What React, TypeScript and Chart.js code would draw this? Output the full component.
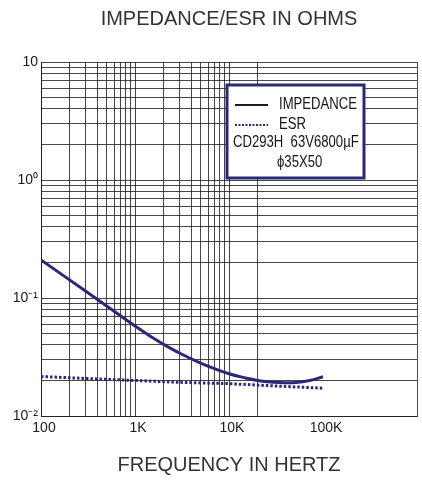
import React, { useEffect, useRef } from 'react';
import { Chart, registerables } from 'chart.js';

Chart.register(...registerables);

// ---- data ----
const IMP_FREQ = [100, 300, 700, 1000, 1500, 2000, 3000, 5000, 7000, 10000, 15000, 20000, 30000, 40000, 50000, 70000, 100000];
const IMPEDANCE = [0.21, 0.114, 0.0708, 0.058, 0.0467, 0.0406, 0.034, 0.028, 0.0252, 0.0228, 0.021, 0.02, 0.0193, 0.0191, 0.0192, 0.0199, 0.0215];
const ESR_FREQ = [100, 300, 1000, 3000, 10000, 30000, 100000];
const ESR = [0.0216, 0.0208, 0.02, 0.0193, 0.0188, 0.018, 0.0172];

const X_GRID_VALUES = [
  100, 200, 300, 400, 500, 600, 700, 800, 900,
  1000, 2000, 3000, 4000, 5000, 6000, 7000, 8000, 9000,
  10000, 20000, 100000, 1000000,
];
const X_LABEL_VALUES = [100, 1000, 10000, 100000];
const X_LABEL_TEXT = ['100', '1K', '10K', '100K'];
const X_GRID_LIMIT = 20000;

const Y_GRID_VALUES = [
  0.01, 0.02, 0.03, 0.04, 0.05, 0.06, 0.07, 0.08, 0.09,
  0.1, 0.2, 0.3, 0.4, 0.5, 0.6, 0.7, 0.8, 0.9,
  1, 2, 3, 4, 5, 6, 7, 8, 9, 10,
];
const Y_LABEL_VALUES = [0.01, 0.1, 1, 10];
const Y_LABEL_TEXT = ['10\u207B\u00B2', '10\u207B\u00B9', '10\u2070', '10'];

const TITLE = 'IMPEDANCE/ESR IN OHMS';
const X_TITLE = 'FREQUENCY IN HERTZ';
const SERIES_NAMES = ['IMPEDANCE', 'ESR'];
const LEGEND_NOTE_1 = 'CD293H  63V6800\u00B5F';
const LEGEND_NOTE_2 = '\u03D535X50';

const LINE_COLOR = '#2b2878';
const GRID_COLOR = 'rgba(25,25,25,0.8)';
const FONT = '"Liberation Sans", Arial, sans-serif';

const near = (a: number, b: number) => Math.abs(Math.log10(a) - Math.log10(b)) < 1e-6;

const drawNarrow = (ctx: any, text: string, x: number, y: number) => {
  ctx.save();
  ctx.translate(x, y);
  ctx.scale(0.82, 1);
  ctx.fillText(text, 0, 0);
  ctx.restore();
};

const legendBoxPlugin = {
  id: 'legendBox',
  afterDatasetsDraw(chart: any) {
    const { ctx, chartArea } = chart;
    const x0 = chartArea.left + 186;
    const y0 = chartArea.top + 23;
    const w = 137;
    const h = 93;
    ctx.save();
    ctx.fillStyle = '#ffffff';
    ctx.fillRect(x0, y0, w, h);
    ctx.strokeStyle = LINE_COLOR;
    ctx.lineWidth = 3;
    ctx.strokeRect(x0, y0, w, h);

    const ds = chart.data.datasets;
    ctx.beginPath();
    ctx.strokeStyle = '#1a1a2a';
    ctx.lineWidth = 2;
    ctx.setLineDash([]);
    ctx.moveTo(x0 + 8, y0 + 20);
    ctx.lineTo(x0 + 41, y0 + 20);
    ctx.stroke();
    ctx.beginPath();
    ctx.strokeStyle = ds[1].borderColor;
    ctx.lineWidth = 2;
    ctx.setLineDash([2, 1.5]);
    ctx.moveTo(x0 + 8, y0 + 40);
    ctx.lineTo(x0 + 41, y0 + 40);
    ctx.stroke();
    ctx.setLineDash([]);

    ctx.fillStyle = '#151515';
    ctx.font = `16px ${FONT}`;
    ctx.textBaseline = 'middle';
    ctx.textAlign = 'left';
    drawNarrow(ctx, ds[0].label, x0 + 52, y0 + 20);
    drawNarrow(ctx, ds[1].label, x0 + 52, y0 + 40);
    drawNarrow(ctx, LEGEND_NOTE_1, x0 + 6, y0 + 58);
    drawNarrow(ctx, LEGEND_NOTE_2, x0 + 50, y0 + 78);
    ctx.restore();
  },
};

export default function App() {
  const ref = useRef<HTMLCanvasElement | null>(null);

  useEffect(() => {
    document.body.style.margin = '0';
    const canvas = ref.current;
    if (!canvas) return;
    const chart = new Chart(canvas, {
      type: 'line',
      data: {
        datasets: [
          {
            label: SERIES_NAMES[0],
            data: IMP_FREQ.map((f, i) => ({ x: f, y: IMPEDANCE[i] })),
            borderColor: LINE_COLOR,
            borderWidth: 3,
            pointRadius: 0,
            tension: 0.4,
            fill: false,
          },
          {
            label: SERIES_NAMES[1],
            data: ESR_FREQ.map((f, i) => ({ x: f, y: ESR[i] })),
            borderColor: LINE_COLOR,
            borderWidth: 3,
            borderDash: [2.5, 2],
            pointRadius: 0,
            tension: 0,
            fill: false,
          },
        ],
      },
      options: {
        animation: false,
        responsive: true,
        maintainAspectRatio: false,
        layout: { padding: { left: 0, right: 5, top: 0, bottom: 0 } },
        plugins: {
          legend: { display: false },
          tooltip: { enabled: false },
          title: { display: false },
        },
        scales: {
          x: {
            type: 'logarithmic',
            position: 'bottom',
            min: 100,
            max: 1000000,
            afterBuildTicks: (scale: any) => {
              scale.ticks = X_GRID_VALUES.map((v) => ({ value: v }));
            },
            afterFit: (scale: any) => {
              scale.height = 64;
            },
            grid: {
              drawTicks: false,
              lineWidth: 1,
              color: (ctx: any) => {
                const v = ctx.tick ? ctx.tick.value : 0;
                return v > X_GRID_LIMIT && v < 1000000 ? 'rgba(0,0,0,0)' : GRID_COLOR;
              },
            },
            border: { display: true, color: GRID_COLOR, width: 1 },
            ticks: {
              autoSkip: false,
              maxRotation: 0,
              padding: 4,
              labelOffset: 3,
              color: '#1a1a1a',
              font: { family: FONT, size: 14 },
              callback: (value: any) => {
                const idx = X_LABEL_VALUES.findIndex((v) => near(v, Number(value)));
                return idx >= 0 ? X_LABEL_TEXT[idx] : '';
              },
            },
            title: {
              display: true,
              text: X_TITLE,
              color: '#333333',
              font: { family: FONT, size: 20 },
              padding: { top: 0, bottom: 3 },
            },
          },
          xTop: {
            type: 'logarithmic',
            position: 'top',
            min: 100,
            max: 1000000,
            afterFit: (scale: any) => {
              scale.height = 62;
            },
            grid: { display: false, drawTicks: false },
            border: { display: false },
            ticks: { display: false },
            title: {
              display: true,
              text: TITLE,
              color: '#333333',
              font: { family: FONT, size: 20 },
              padding: { top: 7, bottom: 0 },
            },
          },
          y: {
            type: 'logarithmic',
            min: 0.01,
            max: 10,
            afterBuildTicks: (scale: any) => {
              scale.ticks = Y_GRID_VALUES.map((v) => ({ value: v }));
            },
            afterFit: (scale: any) => {
              scale.width = 41;
            },
            grid: { drawTicks: false, color: GRID_COLOR, lineWidth: 1 },
            border: { display: true, color: GRID_COLOR, width: 1 },
            ticks: {
              autoSkip: false,
              padding: 3,
              color: '#1a1a1a',
              font: { family: FONT, size: 14 },
              callback: (value: any) => {
                const idx = Y_LABEL_VALUES.findIndex((v) => near(v, Number(value)));
                return idx >= 0 ? Y_LABEL_TEXT[idx] : '';
              },
            },
          },
        },
      } as any,
      plugins: [legendBoxPlugin],
    });
    return () => chart.destroy();
  }, []);

  return (
    <div style={{ width: 422, height: 480, position: 'relative', background: '#fff' }}>
      <canvas ref={ref} />
    </div>
  );
}
